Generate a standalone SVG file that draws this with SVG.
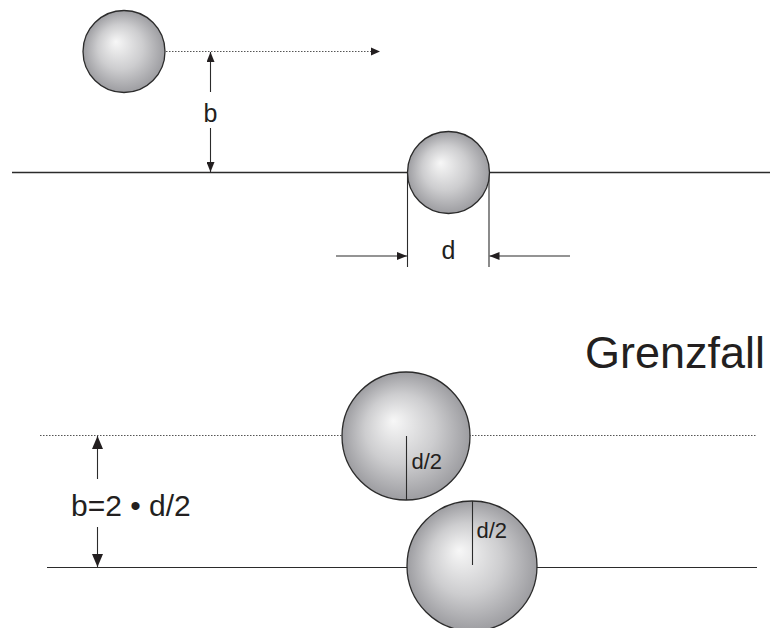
<svg xmlns="http://www.w3.org/2000/svg" width="783" height="628" viewBox="0 0 783 628">
<style>
.ln{stroke:#2b2b2b;stroke-width:1.5;fill:none}
.th{stroke:#2b2b2b;stroke-width:1.1;fill:none}
.dot{stroke:#555;stroke-width:1;stroke-dasharray:1.5,1.5;fill:none}
.ball{fill:url(#g);stroke:#2b2b2b;stroke-width:1.3}
text{font-family:"Liberation Sans",Arial,sans-serif;fill:#231f20}
</style>
<defs>
<radialGradient id="g" cx="0.5" cy="0.5" r="0.5" fx="0.4" fy="0.38">
<stop offset="0" stop-color="#f7f7f7"/>
<stop offset="0.55" stop-color="#cdcdcf"/>
<stop offset="1" stop-color="#9d9da1"/>
</radialGradient>
<marker id="a" markerUnits="userSpaceOnUse" markerWidth="10" markerHeight="8" refX="10" refY="4" orient="auto">
<path d="M0,0 L10,4 L0,8 z" fill="#231f20"/>
</marker>
<marker id="A" markerUnits="userSpaceOnUse" markerWidth="13" markerHeight="11" refX="13" refY="5.5" orient="auto">
<path d="M0,0 L13,5.5 L0,11 z" fill="#231f20"/>
</marker>
</defs>
<g id="connectors">
<line class="ln" x1="12" y1="172.5" x2="770" y2="172.5"/>
<line class="dot" x1="166" y1="51.5" x2="373" y2="51.5"/>
<path d="M371,47.5 L380,51.5 L371,55.5 z" fill="#231f20"/>
<line class="th" x1="210.5" y1="92" x2="210.5" y2="52" marker-end="url(#a)"/>
<line class="th" x1="210.5" y1="128" x2="210.5" y2="172" marker-end="url(#a)"/>
<line class="th" x1="407.5" y1="172" x2="407.5" y2="267"/>
<line class="th" x1="489" y1="172" x2="489" y2="267"/>
<line class="th" x1="336" y1="256" x2="407" y2="256" marker-end="url(#a)"/>
<line class="th" x1="570" y1="256" x2="489.5" y2="256" marker-end="url(#a)"/>
<line class="dot" x1="40" y1="435.5" x2="757" y2="435.5"/>
<line class="th" x1="47" y1="567.5" x2="757" y2="567.5"/>
<line class="th" x1="97.5" y1="479" x2="97.5" y2="436" marker-end="url(#A)"/>
<line class="th" x1="97.5" y1="527" x2="97.5" y2="567" marker-end="url(#A)"/>
</g>
<g id="ball1"><circle class="ball" cx="124" cy="51.5" r="41"/></g>
<g id="ball2"><circle class="ball" cx="448.5" cy="172.5" r="41"/></g>
<g id="ball3">
<circle class="ball" cx="406" cy="436" r="64"/>
<line class="th" x1="406.5" y1="436" x2="406.5" y2="500"/>
<text x="411.5" y="469" font-size="22">d/2</text>
</g>
<g id="ball4">
<circle class="ball" cx="472" cy="566" r="65"/>
<line class="th" x1="472.5" y1="501" x2="472.5" y2="565"/>
<text x="476.5" y="538" font-size="22">d/2</text>
</g>
<g id="labels">
<text x="210.5" y="121.5" font-size="25" text-anchor="middle">b</text>
<text x="448.5" y="259" font-size="25" text-anchor="middle">d</text>
<text x="71" y="515.5" font-size="30">b=2 • d/2</text>
<text x="585" y="368" font-size="45">Grenzfall</text>
</g>
</svg>
